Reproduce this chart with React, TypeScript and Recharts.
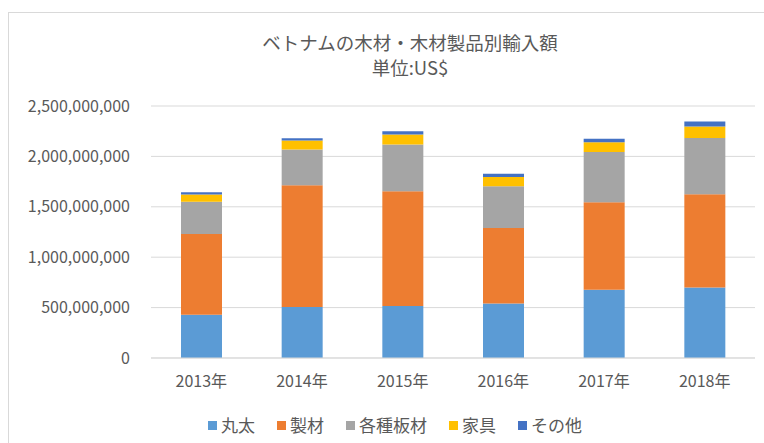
import React from 'react';
import { BarChart, Bar, XAxis, YAxis, CartesianGrid } from 'recharts';

const years = ['2013年', '2014年', '2015年', '2016年', '2017年', '2018年'];
const maruta = [430e6, 507e6, 517e6, 541e6, 677e6, 700e6];
const seizai = [800e6, 1207e6, 1138e6, 749e6, 868e6, 925e6];
const itazai = [319e6, 355e6, 463e6, 414e6, 498e6, 558e6];
const kagu = [73e6, 89e6, 99e6, 92e6, 98e6, 114e6];
const sonota = [22e6, 23e6, 33e6, 33e6, 33e6, 48e6];
const yTicks = [0, 500000000, 1000000000, 1500000000, 2000000000, 2500000000];

const series = [
  { key: 'maruta', name: '丸太', color: '#5B9BD5', values: maruta },
  { key: 'seizai', name: '製材', color: '#ED7D31', values: seizai },
  { key: 'itazai', name: '各種板材', color: '#A5A5A5', values: itazai },
  { key: 'kagu', name: '家具', color: '#FFC000', values: kagu },
  { key: 'sonota', name: 'その他', color: '#4472C4', values: sonota },
];

const data = years.map((y, i) => {
  const row: Record<string, string | number> = { year: y };
  series.forEach((s) => {
    row[s.key] = s.values[i];
  });
  return row;
});

const FONT = '"Noto Sans CJK JP", "Noto Sans", sans-serif';
const TEXT = '#595959';

export default function App() {
  return (
    <div
      style={{
        position: 'absolute',
        left: 0,
        top: 0,
        width: 764,
        height: 443,
        overflow: 'hidden',
        background: '#fff',
        fontFamily: FONT,
      }}
    >
      <div
        style={{
          position: 'absolute',
          left: 8,
          top: 12,
          width: 900,
          height: 900,
          border: '1px solid #D9D9D9',
        }}
      />
      <div
        style={{
          position: 'absolute',
          left: 0,
          width: 820,
          top: 30,
          textAlign: 'center',
          color: TEXT,
          fontSize: 18.5,
          lineHeight: '25px',
        }}
      >
        <div>ベトナムの木材・木材製品別輸入額</div>
        <div>単位:US$</div>
      </div>
      <div style={{ position: 'absolute', left: 0, top: 0 }}>
        <BarChart
          width={764}
          height={443}
          data={data}
          margin={{ top: 106, right: 9, bottom: 0, left: 0 }}
          style={{ fontFamily: FONT }}
        >
          <CartesianGrid vertical={false} stroke="#D9D9D9" />
          <XAxis
            dataKey="year"
            height={85}
            tickLine={false}
            axisLine={{ stroke: '#D9D9D9' }}
            tick={{ fill: TEXT, fontSize: 16, fontFamily: FONT }}
            tickMargin={12}
          />
          <YAxis
            width={151}
            domain={[0, 2500000000]}
            ticks={yTicks}
            tickLine={false}
            axisLine={false}
            tickMargin={15}
            tick={{ fill: TEXT, fontSize: 16, fontFamily: FONT }}
            tickFormatter={(v: number) => v.toLocaleString('en-US')}
          />
          {series.map((s) => (
            <Bar
              key={s.key}
              dataKey={s.key}
              name={s.name}
              stackId="a"
              fill={s.color}
              barSize={41}
              isAnimationActive={false}
            />
          ))}
        </BarChart>
      </div>
      <div
        style={{
          position: 'absolute',
          left: 208,
          top: 413,
          display: 'flex',
          alignItems: 'center',
          gap: 22,
          color: TEXT,
          fontSize: 17,
          lineHeight: '24px',
          whiteSpace: 'nowrap',
        }}
      >
        {series.map((s) => (
          <div key={s.key} style={{ display: 'flex', alignItems: 'center', gap: 4 }}>
            <span style={{ display: 'inline-block', width: 9, height: 9, background: s.color }} />
            <span>{s.name}</span>
          </div>
        ))}
      </div>
    </div>
  );
}
